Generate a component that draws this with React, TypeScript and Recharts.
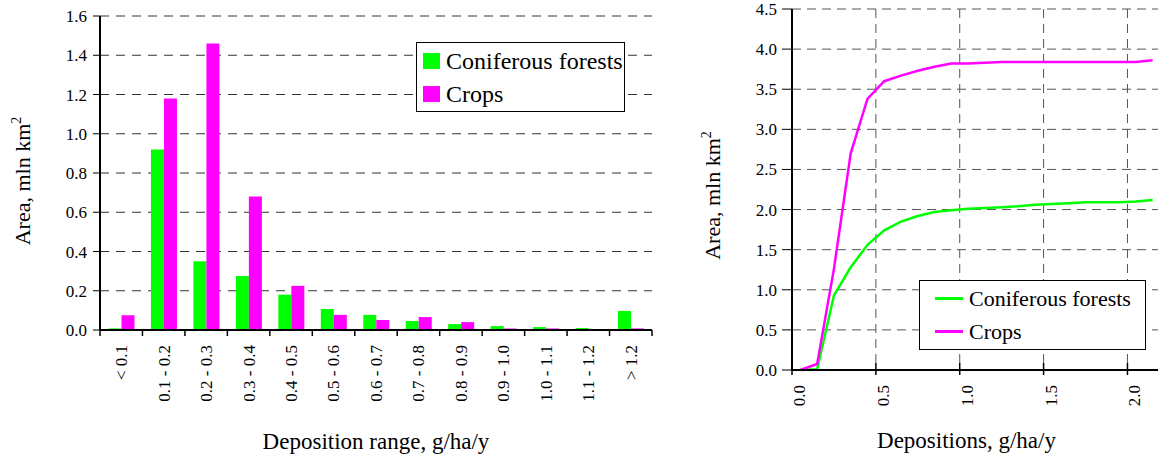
import {
  BarChart,
  Bar,
  LineChart,
  Line,
  XAxis,
  YAxis,
  CartesianGrid,
  Legend,
  Label,
} from "recharts";

const FONT = "Liberation Serif, Times New Roman, serif";

// left chart: area per deposition range
const ranges = [
  "< 0.1",
  "0.1 - 0.2",
  "0.2 - 0.3",
  "0.3 - 0.4",
  "0.4 - 0.5",
  "0.5 - 0.6",
  "0.6 - 0.7",
  "0.7 - 0.8",
  "0.8 - 0.9",
  "0.9 - 1.0",
  "1.0 - 1.1",
  "1.1 - 1.2",
  "> 1.2",
];
const coniferousArea = [0.008, 0.92, 0.35, 0.275, 0.18, 0.107, 0.077, 0.046, 0.03, 0.02, 0.015, 0.01, 0.097];
const cropsArea = [0.075, 1.18, 1.46, 0.68, 0.225, 0.077, 0.051, 0.066, 0.04, 0.008, 0.008, 0.004, 0.008];
const areaTicks = [0, 0.2, 0.4, 0.6, 0.8, 1.0, 1.2, 1.4, 1.6];

// right chart: cumulative area vs deposition
const depositions = [
  0.05, 0.15, 0.25, 0.35, 0.45, 0.55, 0.65, 0.75, 0.85, 0.95, 1.05,
  1.15, 1.25, 1.35, 1.45, 1.55, 1.65, 1.75, 1.85, 1.95, 2.05, 2.15,
];
const coniferousCum = [
  0, 0.01, 0.93, 1.28, 1.56, 1.74, 1.85, 1.92, 1.97, 1.99, 2.01,
  2.02, 2.03, 2.04, 2.06, 2.07, 2.08, 2.09, 2.09, 2.09, 2.1, 2.12,
];
const cropsCum = [
  0, 0.075, 1.26, 2.7, 3.38, 3.6, 3.67, 3.73, 3.78, 3.82, 3.82,
  3.83, 3.84, 3.84, 3.84, 3.84, 3.84, 3.84, 3.84, 3.84, 3.84, 3.86,
];
const cumTicks = [0, 0.5, 1.0, 1.5, 2.0, 2.5, 3.0, 3.5, 4.0, 4.5];
const depTicks = [0, 0.5, 1.0, 1.5, 2.0];

const GREEN = "#00ff00";
const MAGENTA = "#ff00ff";

const barData = ranges.map((r, i) => ({
  range: r,
  coniferous: coniferousArea[i],
  crops: cropsArea[i],
}));

const lineData = depositions.map((d, i) => ({
  deposition: d,
  coniferous: coniferousCum[i],
  crops: cropsCum[i],
}));

const LEFT_W = 680;
const LEFT_MARGIN = { top: 16, right: 28, bottom: 0, left: 0 };
const LEFT_YAXIS_W = 100;
const BAND = (LEFT_W - LEFT_MARGIN.right - LEFT_YAXIS_W) / ranges.length;

function RangeTick(props: any) {
  const { x, y, payload, index, visibleTicksCount } = props;
  const half = BAND / 2;
  const axisY = y - 15;
  return (
    <g>
      <line x1={x - half} x2={x - half} y1={axisY} y2={axisY + 6} stroke="#000" strokeWidth={1.5} />
      {index === visibleTicksCount - 1 && (
        <line x1={x + half} x2={x + half} y1={axisY} y2={axisY + 6} stroke="#000" strokeWidth={1.5} />
      )}
      <text
        x={x}
        y={y}
        dy="0.35em"
        transform={`rotate(-90 ${x} ${y})`}
        textAnchor="end"
        fontFamily={FONT}
        fontSize={17}
        fill="#000"
      >
        {payload.value}
      </text>
    </g>
  );
}

function DepTick(props: any) {
  const { x, y, payload } = props;
  const axisY = y - 15;
  const tx = x + 7;
  return (
    <g>
      <line x1={x} x2={x} y1={axisY - 7} y2={axisY + 5} stroke="#000" strokeWidth={1.5} />
      <text
        x={tx}
        y={y}
        dy="0.35em"
        transform={`rotate(-90 ${tx} ${y})`}
        textAnchor="end"
        fontFamily={FONT}
        fontSize={17}
        fill="#000"
      >
        {Number(payload.value).toFixed(1)}
      </text>
    </g>
  );
}

function YTitle({ viewBox, baseX, shiftY }: any) {
  const cx = viewBox.x + baseX;
  const cy = viewBox.y + viewBox.height / 2 + shiftY;
  return (
    <text
      x={cx}
      y={cy}
      transform={`rotate(-90 ${cx} ${cy})`}
      textAnchor="middle"
      fontFamily={FONT}
      fontSize={22}
      fill="#000"
    >
      Area, mln km
      <tspan fontSize={14} dy={-9}>
        2
      </tspan>
    </text>
  );
}

function XTitle({ viewBox, text, dx, baseY }: any) {
  return (
    <text
      x={viewBox.x + viewBox.width / 2 + dx}
      y={viewBox.y + baseY}
      textAnchor="middle"
      fontFamily={FONT}
      fontSize={23}
      fill="#000"
    >
      {text}
    </text>
  );
}

function LegendBox({ payload, kind, width, fontSize }: any) {
  return (
    <div
      style={{
        width,
        boxSizing: "border-box",
        border: "1.5px solid #000",
        background: "#fff",
        padding: "1px 0",
        fontFamily: FONT,
        fontSize,
        color: "#000",
        textAlign: "left",
        whiteSpace: "nowrap",
      }}
    >
      {(payload || []).map((p: any) => (
        <div key={p.value} style={{ display: "flex", alignItems: "center", height: 33 }}>
          {kind === "square" ? (
            <span
              style={{ width: 17, height: 16, background: p.color, marginLeft: 6, marginRight: 6, display: "inline-block", flex: "none" }}
            />
          ) : (
            <span
              style={{ width: 28, height: 3, background: p.color, marginLeft: 15, marginRight: 6, display: "inline-block", flex: "none" }}
            />
          )}
          <span style={{ lineHeight: 1 }}>{p.value}</span>
        </div>
      ))}
    </div>
  );
}

export default function App() {
  return (
    <div
      style={{
        position: "fixed",
        left: 0,
        top: 0,
        width: 1158,
        height: 459,
        overflow: "hidden",
        background: "#fff",
        fontFamily: FONT,
      }}
    >
      <div style={{ position: "absolute", left: 0, top: 0 }}>
        <BarChart
          width={LEFT_W}
          height={459}
          data={barData}
          margin={LEFT_MARGIN}
          barCategoryGap="20%"
          barGap={0}
        >
          <CartesianGrid vertical={false} stroke="#333" strokeDasharray="9 7" />
          <XAxis
            dataKey="range"
            height={129}
            interval={0}
            tickLine={false}
            tickSize={5}
            tickMargin={10}
            tick={<RangeTick />}
            axisLine={{ stroke: "#000", strokeWidth: 2 }}
          >
            <Label
              content={(p: any) => (
                <XTitle {...p} text="Deposition range, g/ha/y" dx={0} baseY={119} />
              )}
            />
          </XAxis>
          <YAxis
            width={LEFT_YAXIS_W}
            domain={[0, 1.6]}
            ticks={areaTicks}
            interval={0}
            tickSize={7}
            tickMargin={6}
            tickFormatter={(v: number) => v.toFixed(1)}
            tick={{ fontSize: 17, fontFamily: FONT, fill: "#000" }}
            tickLine={{ stroke: "#000" }}
            axisLine={{ stroke: "#000", strokeWidth: 2 }}
          >
            <Label content={(p: any) => <YTitle {...p} baseX={30} shiftY={8} />} />
          </YAxis>
          <YAxis
            yAxisId="frame"
            orientation="right"
            width={0}
            tick={false}
            tickLine={false}
            axisLine={{ stroke: "#888", strokeWidth: 1.5 }}
          />
          <Legend
            layout="vertical"
            align="center"
            verticalAlign="middle"
            wrapperStyle={{ position: "absolute", left: 416, top: 42, width: "auto" }}
            content={(p: any) => <LegendBox payload={p.payload} kind="square" width={209} fontSize={24} />}
          />
          <Bar dataKey="coniferous" name="Coniferous forests" fill={GREEN} isAnimationActive={false} />
          <Bar dataKey="crops" name="Crops" fill={MAGENTA} isAnimationActive={false} />
        </BarChart>
      </div>

      <div style={{ position: "absolute", left: 690, top: 0 }}>
        <LineChart
          width={480}
          height={459}
          data={lineData}
          margin={{ top: 9, right: 9, bottom: 0, left: 0 }}
        >
          <CartesianGrid stroke="#555" strokeDasharray="9 6" />
          <XAxis
            dataKey="deposition"
            type="number"
            domain={[0, 2.2]}
            ticks={depTicks}
            interval={0}
            allowDataOverflow
            height={89}
            tickLine={false}
            tickSize={5}
            tickMargin={10}
            tick={<DepTick />}
            axisLine={{ stroke: "#000", strokeWidth: 2 }}
          >
            <Label
              content={(p: any) => (
                <XTitle {...p} text="Depositions, g/ha/y" dx={-10} baseY={78} />
              )}
            />
          </XAxis>
          <YAxis
            width={102}
            domain={[0, 4.5]}
            ticks={cumTicks}
            interval={0}
            tickSize={10}
            tickMargin={5}
            tickFormatter={(v: number) => v.toFixed(1)}
            tick={{ fontSize: 17, fontFamily: FONT, fill: "#000" }}
            tickLine={{ stroke: "#000" }}
            axisLine={{ stroke: "#000", strokeWidth: 2 }}
          >
            <Label content={(p: any) => <YTitle {...p} baseX={30} shiftY={6} />} />
          </YAxis>
          <Legend
            layout="vertical"
            align="center"
            verticalAlign="middle"
            wrapperStyle={{ position: "absolute", left: 229, top: 280, width: "auto" }}
            content={(p: any) => <LegendBox payload={p.payload} kind="line" width={227} fontSize={22} />}
          />
          <Line
            type="linear"
            dataKey="coniferous"
            name="Coniferous forests"
            stroke={GREEN}
            strokeWidth={2.5}
            dot={false}
            isAnimationActive={false}
          />
          <Line
            type="linear"
            dataKey="crops"
            name="Crops"
            stroke={MAGENTA}
            strokeWidth={2.5}
            dot={false}
            isAnimationActive={false}
          />
        </LineChart>
      </div>
    </div>
  );
}
